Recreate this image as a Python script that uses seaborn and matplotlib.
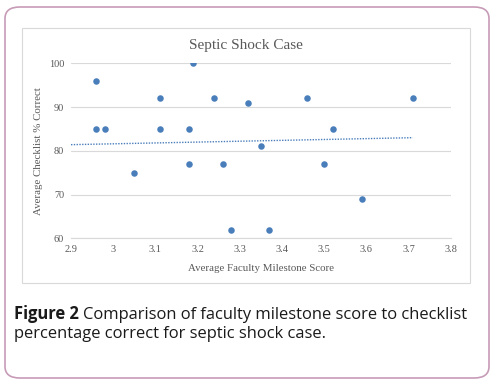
import numpy as np
import pandas as pd
import matplotlib
matplotlib.use("Agg")
import matplotlib.pyplot as plt
from matplotlib.patches import FancyBboxPatch, Rectangle
import seaborn as sns

milestone = [2.96, 2.96, 2.98, 3.05, 3.11, 3.11, 3.18, 3.18, 3.19, 3.24,
             3.26, 3.28, 3.32, 3.35, 3.37, 3.46, 3.50, 3.52, 3.59, 3.71]
checklist = [96, 85, 85, 75, 92, 85, 85, 77, 100, 92,
             77, 62, 91, 81, 62, 92, 77, 85, 69, 92]
trend_x = [2.9, 3.71]
trend_y = [81.4, 83.0]
x_ticks = [2.9, 3.0, 3.1, 3.2, 3.3, 3.4, 3.5, 3.6, 3.7, 3.8]
x_tick_labels = ["2.9", "3", "3.1", "3.2", "3.3", "3.4", "3.5", "3.6", "3.7", "3.8"]
y_ticks = [60, 70, 80, 90, 100]

df = pd.DataFrame({"milestone": milestone, "checklist": checklist})

sns.set_theme(style="white")
plt.rcParams["font.family"] = ["Liberation Serif", "DejaVu Serif"]

fig = plt.figure(figsize=(4.96, 3.84), dpi=100)
W, H = 496, 384

# outer rounded border
fig.patches.append(FancyBboxPatch((5 / W, 6 / H), 484 / W, 371 / H,
                                  boxstyle="round,pad=0,rounding_size=0.03",
                                  transform=fig.transFigure, fill=False,
                                  edgecolor="#c79bb7", linewidth=1.2))
# inner chart frame
fig.patches.append(Rectangle((22 / W, 1 - 283 / H), 448 / W, 255 / H,
                             transform=fig.transFigure, fill=False,
                             edgecolor="#d9d9d9", linewidth=0.8))

ax = fig.add_axes([71 / W, 1 - 238.3 / H, 379.7 / W, 175 / H])
sns.scatterplot(data=df, x="milestone", y="checklist", ax=ax,
                color="#4a7ebb", s=22, edgecolor="#4a7ebb", linewidth=0, zorder=3)
sns.lineplot(x=trend_x, y=trend_y, ax=ax, color="#4a7ebb",
             linestyle=(0, (1, 1)), linewidth=1.0, zorder=2)

ax.set_xlim(2.9, 3.8)
ax.set_ylim(60, 100)
ax.set_xticks(x_ticks)
ax.set_xticklabels(x_tick_labels)
ax.set_yticks(y_ticks)
ax.grid(axis="y", color="#d9d9d9", linewidth=0.8)
ax.set_axisbelow(True)
for side in ["left", "right", "top"]:
    ax.spines[side].set_visible(False)
ax.spines["bottom"].set_color("#d9d9d9")
ax.spines["bottom"].set_linewidth(0.8)
ax.tick_params(axis="both", length=0, labelsize=7.4, colors="#595959", pad=5)
ax.set_xlabel("Average Faculty Milestone Score", fontsize=7.8, color="#595959", labelpad=7)
ax.set_ylabel("Average Checklist % Correct", fontsize=7.8, color="#595959", labelpad=4)

fig.text(246 / W, 1 - 45 / H, "Septic Shock Case", fontsize=11, color="#595959",
         ha="center", va="center")

fig.canvas.draw()
renderer = fig.canvas.get_renderer()
t1 = fig.text(14 / W, 1 - 319 / H, "Figure 2", fontsize=11.9, fontweight="bold",
              family=["Open Sans"], color="#1a1a1a", va="baseline")
bb = t1.get_window_extent(renderer=renderer)
fig.text((bb.x1 + 4) / W, 1 - 319 / H,
         "Comparison of faculty milestone score to checklist",
         fontsize=11.9, family=["Open Sans"], color="#1a1a1a", va="baseline")
fig.text(14 / W, 1 - 338 / H, "percentage correct for septic shock case.",
         fontsize=11.9, family=["Open Sans"], color="#1a1a1a", va="baseline")

fig.savefig("out.png", dpi=100)
